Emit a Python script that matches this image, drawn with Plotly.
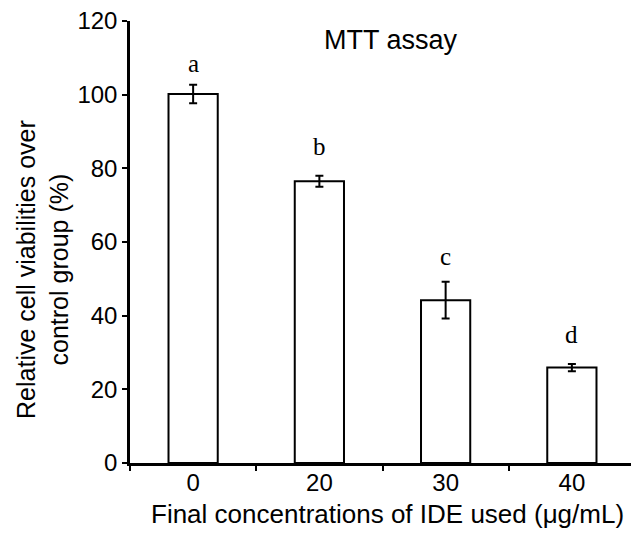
import plotly.graph_objects as go

categories = ["0", "20", "30", "40"]
values = [100.2, 76.5, 44.2, 25.9]
errors = [2.5, 1.5, 5.0, 1.0]
letters = ["a", "b", "c", "d"]
letter_y = [108.5, 86.0, 56.0, 34.8]
yticks = [0, 20, 40, 60, 80, 100, 120]

# page body has an 8px default margin; work in page pixels and shift
OFF = 8
FW, FH = 639 - OFF, 534 - OFF
L, R, T, B = 130 - OFF, 635 - OFF, 20.7 - OFF, 463.3 - OFF
W, H = R - L, B - T

def px(xp):
    return (xp - OFF - L) / W

def py(yp):
    return 1 - (yp - OFF - T) / H

fig = go.Figure()
fig.add_trace(go.Bar(
    x=categories, y=values,
    marker=dict(color="white", line=dict(color="black", width=2)),
    width=0.39,
    error_y=dict(type="data", array=errors, visible=True, color="black", thickness=2, width=4),
    showlegend=False,
))
for i, (t, yy) in enumerate(zip(letters, letter_y)):
    fig.add_annotation(x=i, y=yy, text=t, showarrow=False,
                       font=dict(family="Liberation Serif", size=25, color="black"))

fig.add_annotation(xref="paper", yref="paper", x=px(391), y=py(40),
                   text="MTT assay", showarrow=False, xanchor="center", yanchor="middle",
                   font=dict(family="Liberation Sans", size=27, color="black"))
fig.add_annotation(xref="paper", yref="paper", x=px(387), y=py(514),
                   text="Final concentrations of IDE used (\u03bcg/mL)", showarrow=False,
                   xanchor="center", yanchor="middle",
                   font=dict(family="Liberation Sans", size=26, color="black"))
fig.add_annotation(xref="paper", yref="paper", x=px(43), y=py(270),
                   text="Relative cell viabilities over<br>control group (%)", showarrow=False,
                   textangle=-90, xanchor="center", yanchor="middle",
                   font=dict(family="Liberation Sans", size=25, color="black"))

fig.update_layout(
    width=FW, height=FH,
    margin=dict(l=L, r=FW - R, t=T, b=FH - B, autoexpand=False),
    plot_bgcolor="white", paper_bgcolor="white",
    font=dict(family="Liberation Sans", color="black"),
)
fig.update_xaxes(
    type="category", tickson="boundaries", ticks="outside", ticklen=5, tickwidth=2,
    tickcolor="black", showline=True, linecolor="black", linewidth=2.5, showgrid=False,
    tickfont=dict(size=24), range=[-0.5, 3.5], ticklabelstandoff=-4,
    ticklabeloverflow="allow", automargin=False,
)
fig.update_yaxes(
    range=[0, 120], tickvals=yticks, ticks="outside", ticklen=5, tickwidth=2,
    tickcolor="black", showline=True, linecolor="black", linewidth=2.5, showgrid=False,
    zeroline=False, tickfont=dict(size=24), ticklabeloverflow="allow", automargin=False,
)
fig.write_html("out.html")
